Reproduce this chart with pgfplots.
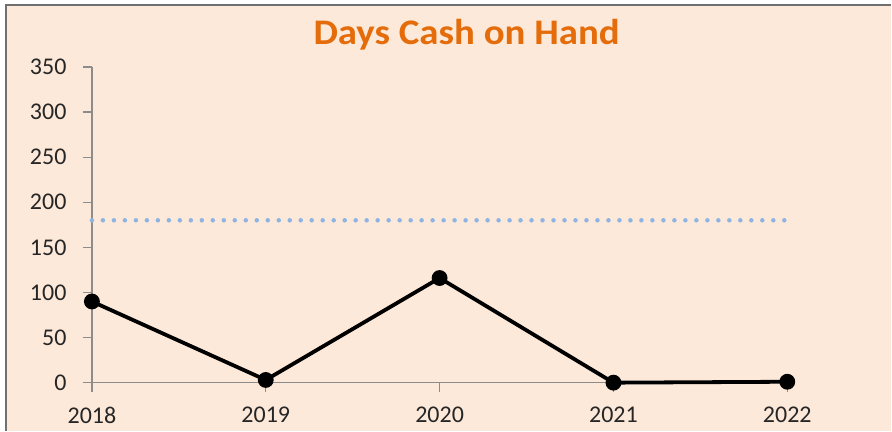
\documentclass[border=0pt]{standalone}
\usepackage{pgfplots}
\pgfplotsset{compat=1.18}
\usepackage{fontspec}
\setmainfont{Carlito}
\definecolor{peach}{HTML}{FDE9D9}
\definecolor{titleorange}{HTML}{E46C0A}
\definecolor{axgray}{HTML}{8C8C8C}
\definecolor{dotblue}{HTML}{8DB4E2}
\begin{document}
\begin{tikzpicture}
\fill[white] (0pt,0pt) rectangle (892pt,431pt);
\fill[peach] (6pt,0pt) rectangle (892pt,426pt);
\draw[axgray!80!black, line width=1.6pt] (6pt,0pt) -- (6pt,426pt) -- (892pt,426pt);
\node[anchor=base, inner sep=0pt, text=titleorange, font=\fontsize{36}{40}\selectfont\bfseries] at (467pt,386pt) {\scalebox{1.08}[1]{Days Cash on Hand}};
\begin{axis}[
  at={(92pt,48pt)}, anchor=origin,
  scale only axis, width=696pt, height=316pt,
  xmin=0, xmax=4, ymin=0, ymax=350,
  axis x line*=bottom, axis y line*=left,
  axis line style={axgray, line width=1.2pt},
  xtick={0,1,2,3,4}, xticklabels={2018,2019,2020,2021,2022},
  ytick={0,50,...,350},
  tick align=outside, major tick length=9pt,
  xtick style={draw=axgray, line width=1.2pt},
  ytick style={draw=axgray, line width=1.2pt},
  tick label style={font=\fontsize{24}{26}\selectfont, text=black!85},
  /pgf/number format/assume math mode=true,
  yticklabel style={xshift=-13pt},
  xticklabel style={yshift=-12pt},
  clip=false,
]
\addplot[dotblue, line width=4.5pt, line cap=round, dash pattern=on 0pt off 11pt] coordinates {(0,180) (4,180)};
\addplot[black, line width=3.8pt, mark=*, mark size=6pt, mark options={solid}] coordinates {
(0,90) (1,3) (2,116) (3,0) (4,1)};
\end{axis}
\end{tikzpicture}
\end{document}
